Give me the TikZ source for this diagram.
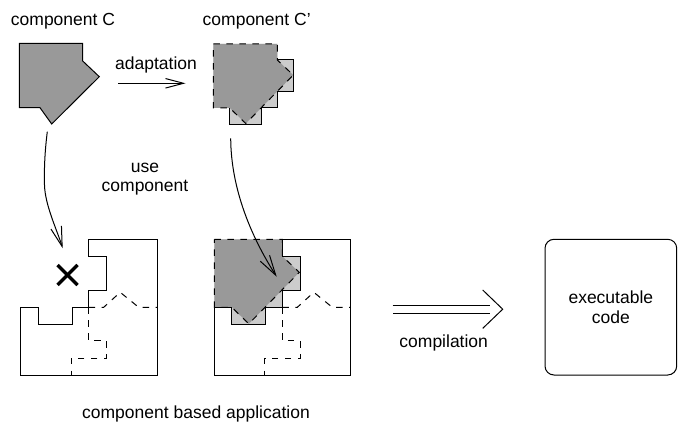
\documentclass[tikz,border=0pt]{standalone}
\usepackage{fontspec}
\setmainfont{Liberation Sans}
\usetikzlibrary{arrows.meta,calc}
\definecolor{darkgrey}{gray}{0.6}
\definecolor{lightgrey}{gray}{0.8}
\newcommand{\adaptcomp}{%
  \fill[lightgrey] (0,0) -- (68,0) -- (68,17) -- (85.7,17) -- (85.7,51) -- (68,51) -- (68,68) -- (51.5,68) -- (51.5,85.5) -- (17.5,85.5) -- (17.5,68) -- (0,68) -- cycle;
  \filldraw[fill=darkgrey, compdash] (0,0) -- (68,0) -- (68,17) -- (85,33) -- (34.5,84.5) -- (17.5,68) -- (0,68) -- cycle;
}
\newcommand{\appbox}{%
  \draw[outline] (68,0) -- (136.3,0) -- (136.3,135.7) -- (0,135.7) -- (0,68) -- (17.5,68) -- (17.5,85.5) -- (51.5,85.5) -- (51.5,68) -- (68,68) -- (68,51) -- (85.7,51) -- (85.7,17) -- (68,17) -- cycle;
  \draw[compdash] (68,68) -- (83,68) -- (99.5,53) -- (118,68) -- (136.3,68);
  \draw[compdash] (68,68) -- (68,101.5) -- (86,101.5) -- (86,118.7) -- (50.3,118.7) -- (50.3,135.7);
}
\begin{document}
\begin{tikzpicture}[x=1pt,y=-1pt,
  outline/.style={draw=black, line width=1pt, line join=miter},
  compdash/.style={draw=black, line width=1pt, dash pattern=on 6.5pt off 6.5pt},
  lab/.style={font=\fontsize{17.5}{19.5}\selectfont, inner sep=0pt, align=center},
  conn/.style={line width=1pt, -{Straight Barb[length=20pt,width=11pt,line width=1pt]}},
  connshort/.style={line width=1pt, -{Straight Barb[length=18pt,width=9.5pt,line width=1pt]}}]
\useasboundingbox (0,0) rectangle (678,425);

% labels
\node[lab] (labC) at (63,21) {component C};
\node[lab] (labCp) at (256.7,21) {component C'};
\node[lab] (labAd) at (156,65) {adaptation};
\node[lab] (labUse) at (145,179) {use\\component};
\node[lab] (labApp) at (196,414) {component based application};
\node[lab] (labComp) at (443.7,343) {compilation};
\node[draw, line width=1pt, rounded corners=9pt, minimum width=131.7pt, minimum height=135.7pt, lab] (exe) at (610.85,307.15) {executable\\code};

% component C
\filldraw[fill=darkgrey, outline] (19.3,43.3) -- (82.7,43.3) -- (82.7,61) -- (99.3,76.7) -- (51.7,124) -- (40,107.7) -- (19.3,107.7) -- cycle;

% component C'
\begin{scope}[shift={(213.3,44)}, scale=0.941]
  \adaptcomp
  \draw[outline] (68,17) -- (85.7,17) -- (85.7,51) -- (68,51) -- (68,68) -- (51.5,68) -- (51.5,85.5) -- (17.5,85.5) -- (17.5,68);
\end{scope}

% left application
\begin{scope}[shift={(20.7,239.3)}]
  \appbox
\end{scope}

% right application
\begin{scope}[shift={(214.3,239.3)}]
  \adaptcomp
  \appbox
\end{scope}

% adaptation arrow
\coordinate (adS) at (118.3,83.3);
\coordinate (adE) at (185.5,83.3);
\draw[connshort] (adS) -- (adE);

% use component arrow to X
\coordinate (c1s) at (47.3,131.7);
\coordinate (c1m) at (44.5,185);
\coordinate (xtip) at (62.7,248.3);
\draw[conn] (c1s) .. controls (45,150) and (44,168) .. (c1m) .. controls (45,205) and (57,230) .. (xtip);

% X mark
\coordinate (xmark) at (67.5,275);
\draw[line width=3.5pt] ($(xmark)+(-10,-10)$) -- ($(xmark)+(10,10)$);
\draw[line width=3.5pt] ($(xmark)+(-10,10)$) -- ($(xmark)+(10,-10)$);

% adapted component arrow
\coordinate (c2s) at (230.7,138.3);
\coordinate (c2e) at (276.7,276.7);
\draw[conn] (c2s) .. controls (231,190) and (252,238) .. (c2e);

% compilation arrow
\coordinate (cmpS) at (392.7,309.2);
\coordinate (cmpE) at (490,309.2);
\coordinate (cmpT) at (502.7,309.2);
\draw[line width=1pt, double, double distance=7.3pt] (cmpS) -- (cmpE);
\draw[line width=1pt] ($(cmpT)+(-20,-19.2)$) -- (cmpT) -- ($(cmpT)+(-20,19.2)$);
\end{tikzpicture}
\end{document}
